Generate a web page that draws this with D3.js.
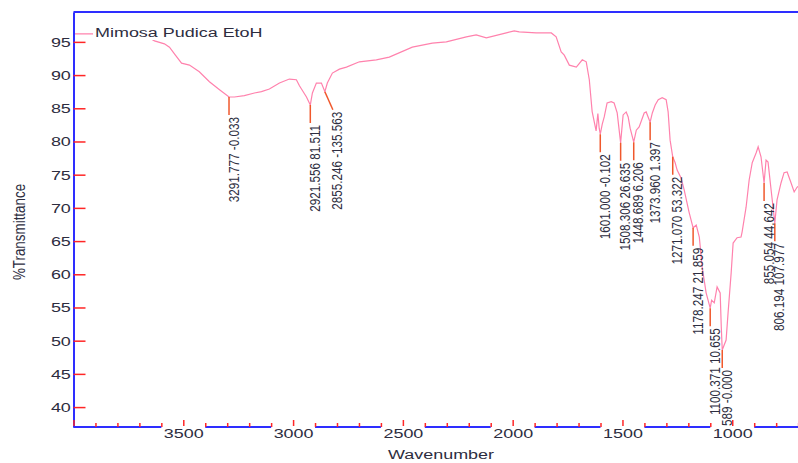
<!DOCTYPE html>
<html>
<head>
<meta charset="utf-8">
<script src="https://cdn.jsdelivr.net/npm/d3@7"></script>
<style>
  body { margin: 0; background: #fff; }
  text { font-family: "Liberation Sans", Arial, sans-serif; fill: #2d2d40; }
</style>
</head>
<body>
<div id="chart"></div>
<script>
// Spectrum (wavenumber in cm-1, %T)
const wavenumbers = [
  4000, 3950, 3900, 3800, 3700, 3650, 3631, 3586, 3563, 3536, 3508, 3472, 3427, 3381, 3335,
  3291.777, 3267, 3222, 3176, 3144, 3108, 3062, 3017, 2985, 2971, 2939, 2921.556, 2912, 2894,
  2871, 2855.246, 2844, 2821, 2789, 2757, 2698, 2621, 2562, 2457, 2366, 2302, 2211, 2166, 2120,
  2029, 1993, 1970, 1893, 1824, 1802, 1779, 1765, 1742, 1710, 1683, 1665, 1651, 1638, 1620,
  1612, 1606, 1601, 1592, 1583, 1570, 1551, 1538, 1524, 1508.306, 1497, 1483, 1474, 1465,
  1448.689, 1437, 1424, 1401, 1392, 1373.96, 1364, 1351, 1337, 1319, 1301, 1292, 1283,
  1271.07, 1260, 1251, 1233, 1219, 1197, 1178.247, 1164, 1150, 1137, 1119, 1100.371, 1094,
  1082, 1069, 1055, 1050, 1045.589, 1028, 1019, 1005, 996, 978, 960, 955, 937, 923, 909, 891,
  882, 869, 855.054, 846, 837, 823, 806.194, 796, 778, 764, 750, 732, 718, 705, 690, 650
];
const transmittance = [
  96.2, 96.2, 96.2, 96.1, 95.8, 95.5, 95.15, 94.7, 94.2, 93.0, 91.8, 91.5, 90.5, 89.0, 87.8,
  86.7, 86.7, 86.9, 87.3, 87.5, 87.9, 88.8, 89.4, 89.3, 88.4, 86.7, 85.5, 87.3, 88.8,
  88.8, 87.5, 88.8, 90.3, 90.9, 91.2, 92.0, 92.3, 92.7, 94.2, 94.8, 95.0, 95.75, 96.05, 95.6,
  96.35, 96.65, 96.5, 96.35, 96.35, 95.75, 93.5, 93.0, 91.5, 91.2, 92.3, 92.0, 89.3, 84.5, 81.6,
  84.2, 82.0, 81.1, 82.6, 83.7, 85.8, 86.0, 85.8, 84.3, 79.8, 84.0, 84.45, 83.7, 82.0,
  79.9, 81.7, 82.2, 84.3, 84.45, 82.9, 84.3, 85.5, 86.3, 86.6, 86.3, 84.45, 80.2,
  77.7, 76.8, 75.7, 74.5, 72.7, 69.4, 67.0, 67.4, 65.6, 61.1, 57.2, 54.9, 56.1,
  55.7, 58.1, 57.2, 52.1, 48.6, 50.1, 54.2, 60.2, 64.7, 65.5, 65.6, 66.4, 70.1, 74.2, 76.8, 78.3,
  79.2, 77.7, 73.75, 77.2, 76.9, 72.7, 67.7, 71.2, 73.75, 75.3, 75.4, 73.75, 72.4, 73.1, 73.5, 73.0
];

// Labelled peaks
const peakWavenumbers = [3291.777, 2921.556, 2855.246, 1601.000, 1508.306, 1448.689, 1373.960,
  1271.070, 1178.247, 1100.371, 1045.589, 855.054, 806.194];
const peakTransmittance = [86.7, 85.5, 87.5, 81.1, 79.8, 79.9, 82.9, 77.7, 67.0, 54.9, 48.6, 73.75, 67.7];
const peakHeights = ["-0.033", "81.511", "-135.563", "-0.102", "26.635", "6.206", "1.397",
  "53.322", "21.859", "10.655", "-0.000", "44.642", "107.977"];

const xMajorTicks = [4000, 3500, 3000, 2500, 2000, 1500, 1000];
const yTicks = [40, 45, 50, 55, 60, 65, 70, 75, 80, 85, 90, 95];
const title = "Mimosa Pudica EtoH";

const W = 798, H = 463;
const SX = 1.33; // the original's text is stretched sideways
const blue = "#2e2eff", red = "#ff2626", pink = "#ff82ad", leader = "#f0582c";

const svg = d3.select("#chart").append("svg")
  .attr("width", W).attr("height", H);

const x = d3.scaleLinear().domain([4000, 400]).range([73.5, 864]);
const y = d3.scaleLinear().domain([37, 99.5]).range([427, 12]);
const plotLeft = x(4000), plotTop = y(99.5), plotBottom = y(37);

svg.append("clipPath").attr("id", "plot")
  .append("rect").attr("x", plotLeft).attr("y", plotTop).attr("width", W).attr("height", plotBottom - plotTop);

// Spectrum
const plot = svg.append("g").attr("clip-path", "url(#plot)");
plot.append("path")
  .datum(d3.zip(wavenumbers, transmittance))
  .attr("fill", "none")
  .attr("stroke", pink)
  .attr("stroke-width", 1.2)
  .attr("d", d3.line().x(d => x(d[0])).y(d => y(d[1])));

// Peak leaders and labels
const nudge = { 2855.246: 8 };
const peaks = peakWavenumbers.map((w, i) => ({
  w, t: peakTransmittance[i], label: `${w.toFixed(3)} ${peakHeights[i]}`, dx: nudge[w] || 0
}));

plot.selectAll(".leader").data(peaks).enter().append("line")
  .attr("class", "leader")
  .attr("x1", d => x(d.w)).attr("y1", d => y(d.t))
  .attr("x2", d => x(d.w) + d.dx).attr("y2", d => y(d.t) + 18)
  .attr("stroke", leader).attr("stroke-width", 1.5);

plot.selectAll(".peak").data(peaks).enter().append("g")
  .attr("class", "peak")
  .attr("transform", d => `translate(${x(d.w) + d.dx + 4.5},${y(d.t) + 20}) rotate(-90) scale(1,1.25)`)
  .append("text")
  .attr("text-anchor", "end")
  .attr("dy", "0.35em")
  .style("font-size", "11.7px")
  .text(d => d.label);

// Title with its white box
svg.append("rect").attr("x", 93).attr("y", 24).attr("width", 174).attr("height", 16).attr("fill", "#fff");
svg.append("g").attr("transform", `translate(95,37) scale(${SX},1)`)
  .append("text").style("font-size", "13.5px").text(title);

// Y axis
const yAxis = svg.append("g")
  .attr("transform", `translate(${plotLeft},0)`)
  .call(d3.axisLeft(y).tickValues(yTicks).tickSizeInner(-12).tickSizeOuter(0).tickPadding(2));
yAxis.select(".domain").attr("stroke", blue).attr("stroke-width", 2);
yAxis.selectAll(".tick line").attr("stroke", red).attr("stroke-width", 1.5);
yAxis.selectAll(".tick text")
  .attr("fill", null)
  .style("font-size", "13.5px")
  .attr("transform", `scale(${SX},1)`);

// X axis: blue baseline broken round each labelled tick
const xMinor = d3.range(3900, 600, -100).filter(v => !xMajorTicks.includes(v));
const segments = [];
let segStart = 4000;
xMajorTicks.slice(1).forEach(m => {
  segments.push([segStart, m + 100]);
  segStart = m - 100;
});
segments.push([segStart, 400]);
svg.selectAll(".xseg").data(segments).enter().append("line")
  .attr("class", "xseg")
  .attr("x1", d => x(d[0])).attr("x2", d => Math.min(x(d[1]), W))
  .attr("y1", plotBottom).attr("y2", plotBottom)
  .attr("stroke", blue).attr("stroke-width", 2);

const xMinorAxis = svg.append("g")
  .attr("transform", `translate(0,${plotBottom})`)
  .call(d3.axisBottom(x).tickValues(xMinor).tickSizeInner(-4).tickSizeOuter(0).tickFormat(""));
xMinorAxis.select(".domain").remove();
xMinorAxis.selectAll(".tick line").attr("stroke", red).attr("stroke-width", 1.5);

const xAxis = svg.append("g")
  .attr("transform", `translate(0,${plotBottom})`)
  .call(d3.axisBottom(x).tickValues(xMajorTicks).tickSizeInner(-7).tickSizeOuter(0).tickPadding(1)
    .tickFormat(d => d === 4000 ? "" : d));
xAxis.select(".domain").remove();
xAxis.selectAll(".tick line").attr("stroke", red).attr("stroke-width", 1.5).attr("y1", -1);
xAxis.selectAll(".tick text")
  .attr("fill", null)
  .style("font-size", "13.5px")
  .attr("transform", `scale(${SX},1)`)
  .attr("x", 0);

// Top border
svg.append("line")
  .attr("x1", plotLeft).attr("x2", W).attr("y1", plotTop).attr("y2", plotTop)
  .attr("stroke", blue).attr("stroke-width", 2);

// Axis titles
svg.append("g").attr("transform", `translate(441,459) scale(${SX},1)`)
  .append("text").attr("text-anchor", "middle").style("font-size", "13.5px").text("Wavenumber");
svg.append("g").attr("transform", "translate(25,232) rotate(-90) scale(1,1.3)")
  .append("text").attr("text-anchor", "middle").style("font-size", "13.4px").text("%Transmittance");
</script>
</body>
</html>
